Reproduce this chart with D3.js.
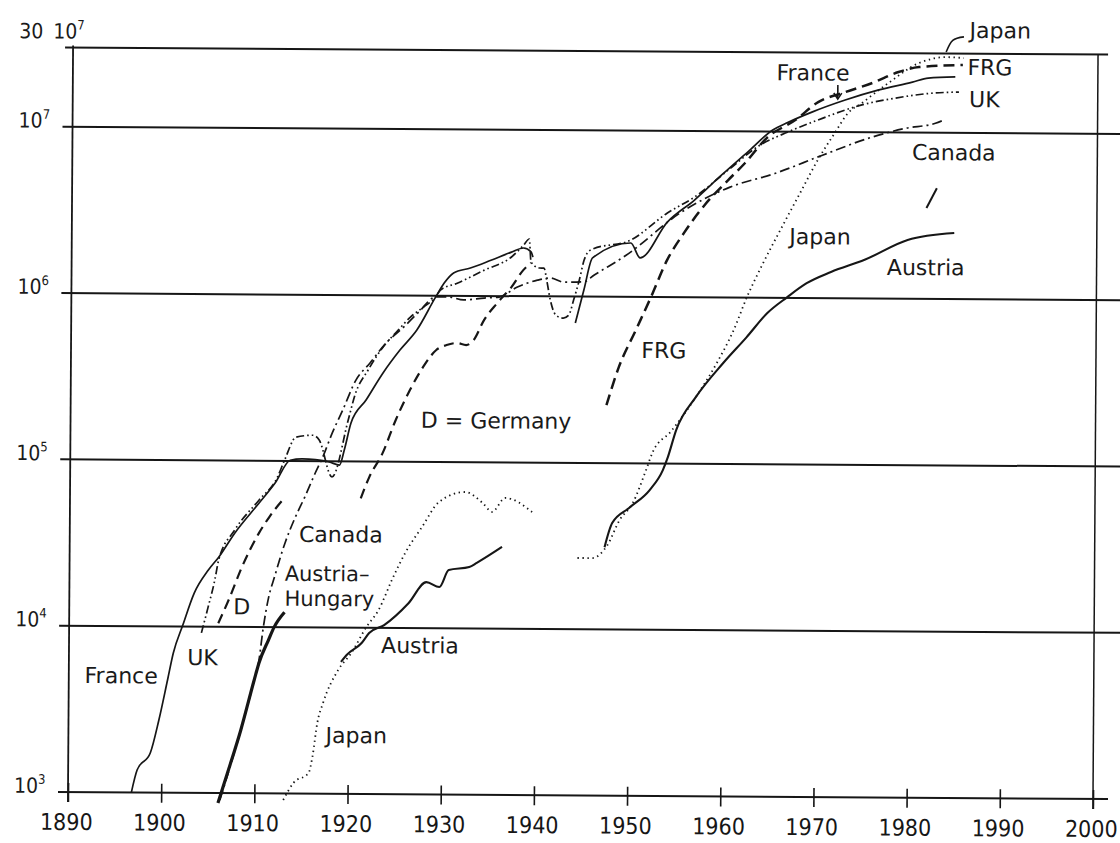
<!DOCTYPE html>
<html>
<head>
<meta charset="utf-8">
<script src="https://cdn.jsdelivr.net/npm/d3@7/dist/d3.min.js"></script>
<style>
  body { margin: 0; background: #fff; }
  .chart text { font-family: "DejaVu Sans", sans-serif; fill: #1a1a1a; }
  .chart text.tick-label { font-family: "DejaVu Sans Condensed", "DejaVu Sans", sans-serif; font-stretch: condensed; }
</style>
</head>
<body>
<div class="chart"></div>
<script>
// size of the page and the plotting box
const WIDTH = 1120;
const HEIGHT = 843;

// x ticks and y ticks (decades of the log axis)
const XTICKS = [1890, 1900, 1910, 1920, 1930, 1940, 1950, 1960, 1970, 1980, 1990, 2000];
const YTICKS = [1e3, 1e4, 1e5, 1e6, 1e7];
const YTICK_EXP = ["3", "4", "5", "6", "7"];

// series as [year, number of cars]
const france1 = [[1896.8, 1000], [1897.4, 1365], [1898.8, 1730], [1899.7, 2735], [1900.6, 4760], [1901.2, 6920], [1902.2, 10200], [1903.4, 15900], [1904.9, 21900], [1906.0, 26200], [1907.7, 36600], [1910.3, 55700], [1912.0, 73500], [1913.6, 101000], [1914.9, 103000], [1916.3, 102000], [1917.8, 98900], [1918.9, 94900], [1919.4, 117000], [1920.1, 170000], [1921.7, 234000], [1923.5, 341000], [1925.3, 469000], [1927.1, 620000], [1929.1, 982000], [1930.0, 1190000], [1931.0, 1370000], [1932.8, 1470000], [1935.0, 1640000], [1937.2, 1840000], [1938.5, 1950000], [1939.3, 1850000], [1939.5, 1720000]];
const france2 = [[1944.1, 694000], [1945.0, 1100000], [1945.9, 1710000], [1950.0, 2110000], [1951.0, 1720000], [1953.9, 2830000], [1956.8, 3850000], [1959.7, 5460000], [1962.7, 7730000], [1965.1, 10200000], [1966.8, 11400000], [1969.4, 13200000], [1972.9, 15600000], [1976.5, 18000000], [1980.1, 20100000], [1981.8, 21300000], [1984.7, 21700000]];

const uk = [[1904.2, 9170], [1904.9, 13100], [1905.6, 19100], [1906.0, 25200], [1907.7, 38200], [1910.3, 58100], [1912.2, 78800], [1913.0, 101000], [1914.2, 139000], [1916.0, 143000], [1916.7, 134000], [1918.1, 80400], [1919.8, 177000], [1920.5, 250000], [1921.9, 355000], [1923.5, 489000], [1925.1, 618000], [1926.4, 741000], [1927.8, 853000], [1929.1, 982000], [1929.6, 1080000], [1931.4, 1190000], [1934.3, 1430000], [1937.2, 1720000], [1938.5, 2030000], [1939.1, 2210000], [1939.3, 1610000], [1940.2, 1480000], [1940.7, 1480000], [1941.0, 1250000], [1941.4, 951000], [1942.0, 773000], [1942.8, 741000], [1943.4, 774000], [1943.9, 953000], [1944.5, 1260000], [1945.0, 1660000], [1945.7, 1910000], [1950.0, 2200000], [1953.9, 3210000], [1956.8, 4010000], [1960.4, 5850000], [1963.8, 8290000], [1966.5, 9810000], [1970.0, 11800000], [1974.7, 14600000], [1978.3, 16100000], [1982.3, 17300000], [1985.1, 17600000]];

const canada = [[1906.3, 908], [1908.5, 2400], [1909.9, 4800], [1910.4, 6330], [1910.8, 9600], [1911.4, 15200], [1912.0, 20000], [1913.1, 32000], [1914.2, 46000], [1915.2, 60800], [1916.3, 84800], [1917.1, 106000], [1918.1, 148000], [1919.2, 203000], [1920.6, 308000], [1922.1, 391000], [1923.8, 516000], [1925.7, 646000], [1927.3, 796000], [1929.1, 982000], [1930.5, 983000], [1932.1, 944000], [1934.3, 971000], [1935.9, 986000], [1937.8, 1130000], [1940.0, 1250000], [1941.4, 1290000], [1942.8, 1220000], [1945.0, 1230000], [1946.1, 1350000], [1949.5, 1780000], [1955.4, 3250000], [1960.6, 4620000], [1965.4, 5600000], [1970.5, 7250000], [1975.8, 9350000], [1979.4, 10600000], [1982.6, 11400000], [1983.3, 11800000]];

const austriaHungary = [[1906.1, 871], [1907.1, 1320], [1908.5, 2400], [1909.9, 4800], [1910.4, 6080], [1911.4, 8360], [1912.0, 10000], [1913.1, 12300]];

const germany1 = [[1906.0, 10500], [1907.1, 14500], [1908.5, 22900], [1910.3, 36700], [1911.4, 45900], [1913.1, 60700]];
const germany2 = [[1921.2, 60000], [1922.1, 80500], [1923.5, 112000], [1924.9, 178000], [1926.4, 270000], [1927.8, 372000], [1929.2, 471000], [1930.3, 505000], [1931.4, 520000], [1932.4, 506000], [1933.2, 542000], [1934.3, 716000], [1935.7, 907000], [1937.2, 1130000], [1938.5, 1440000], [1939.3, 1590000]];

const frg = [[1947.5, 223000], [1948.8, 378000], [1950.6, 632000], [1952.2, 1000000], [1953.9, 1670000], [1955.7, 2440000], [1957.9, 3600000], [1960.4, 5090000], [1962.2, 6460000], [1964.5, 9140000], [1967.6, 11800000], [1970.0, 15100000], [1972.9, 17400000], [1975.8, 19800000], [1978.6, 23100000], [1980.8, 24800000], [1985.5, 25600000]];

const japan1 = [[1913.1, 914], [1914.2, 1160], [1915.8, 1330], [1916.2, 1660], [1916.7, 2660], [1917.3, 3510], [1918.9, 5550], [1920.3, 7030], [1921.9, 10100], [1923.2, 12800], [1924.6, 19400], [1926.0, 28200], [1927.8, 40600], [1929.6, 57400], [1932.4, 66100], [1934.3, 56800], [1935.3, 50300], [1936.7, 61100], [1939.6, 50400]];
const japan2 = [[1944.5, 26800], [1946.1, 26800], [1947.7, 32100], [1949.0, 45500], [1950.4, 57700], [1951.8, 91200], [1952.5, 117000], [1954.4, 155000], [1957.1, 252000], [1959.3, 403000], [1961.1, 638000], [1962.5, 1010000], [1964.0, 1530000], [1966.2, 2670000], [1968.3, 4470000], [1970.0, 6780000], [1971.8, 9860000], [1973.2, 13000000], [1974.7, 15000000], [1977.2, 19200000], [1980.8, 26200000], [1983.7, 28500000], [1985.6, 28200000]];

const austria1 = [[1919.2, 6210], [1919.8, 6840], [1921.4, 8090], [1922.2, 9290], [1923.8, 10400], [1926.4, 14100], [1928.3, 18900], [1929.7, 17700], [1930.7, 22400], [1932.9, 23400], [1933.7, 24800], [1936.4, 31000]];
const austria2 = [[1947.4, 31200], [1948.2, 43600], [1950.0, 53800], [1952.2, 69100], [1953.6, 91200], [1954.1, 108000], [1955.0, 159000], [1957.1, 252000], [1960.0, 404000], [1962.5, 580000], [1964.7, 811000], [1966.8, 1010000], [1968.9, 1230000], [1971.5, 1440000], [1975.1, 1710000], [1979.7, 2260000], [1984.7, 2500000]];

// text labels (lines split by "|"), anchored at [year, value] of their left baseline
const labelText = ["Japan", "FRG", "UK", "France", "Canada", "Japan", "Austria", "FRG", "D = Germany", "Canada", "Austria\u2013|Hungary", "D", "UK", "France", "Austria", "Japan"];
const labelAt = [[1986.2, 3.72e7], [1986.0, 2.23e7], [1986.2, 1.43e7], [1965.5, 2.04e7], [1980.1, 6.84e6], [1967.0, 2.11e6], [1977.5, 1.39e6], [1951.2, 4.30e5], [1927.6, 1.60e5], [1914.6, 3.26e4], [1913.1, 1.90e4], [1907.6, 1.19e4], [1902.7, 5.86e3], [1891.7, 4.53e3], [1923.5, 7.06e3], [1917.6, 2.02e3]];

// little leader marks
const japanLeader = [[1983.7, 3.06e7], [1984.4, 3.6e7], [1985.6, 3.78e7]];
const canadaMark = [[1981.7, 3.52e6], [1982.8, 4.64e6]];
const franceArrow = [[1972.1, 1.92e7], [1972.1, 1.58e7]];

const X = d3.scaleLinear().domain([1890, 2000]).range([68, 1093]);
const Y = d3.scaleLog().domain([1e3, 3e7]).range([792, 47.5]);

const SVG = d3.select(".chart")
  .append("svg")
  .attr("width", WIDTH)
  .attr("height", HEIGHT);

// the scan is a little tilted
const G = SVG.append("g").attr("transform", "rotate(0.39 68 792)");

const INK = "#161616";

// horizontal grid lines at each decade
G.selectAll(".grid")
  .data(YTICKS)
  .join("line")
  .attr("class", "grid")
  .attr("x1", 58)
  .attr("x2", d => d === 1e3 ? 1108 : 1120)
  .attr("y1", d => Y(d))
  .attr("y2", d => Y(d))
  .attr("stroke", INK)
  .attr("stroke-width", 2);

// top line and the frame
G.append("line").attr("x1", 60).attr("x2", 1103).attr("y1", Y(3e7)).attr("y2", Y(3e7)).attr("stroke", INK).attr("stroke-width", 2);
G.append("line").attr("x1", X(1890)).attr("x2", X(1890)).attr("y1", Y(3e7) - 2).attr("y2", Y(1e3) + 10).attr("stroke", INK).attr("stroke-width", 1.8);
G.append("line").attr("x1", X(2000)).attr("x2", X(2000)).attr("y1", Y(3e7)).attr("y2", Y(1e3) + 10).attr("stroke", INK).attr("stroke-width", 1.5);

// x axis
const xAxis = G.append("g")
  .attr("transform", `translate(0,${Y(1e3)})`)
  .call(d3.axisBottom(X).tickValues(XTICKS).tickFormat(d3.format("d")).tickSizeInner(10).tickSizeOuter(0));
xAxis.select(".domain").remove();
xAxis.selectAll(".tick line").attr("y1", -9).attr("stroke", INK).attr("stroke-width", 1.6);
xAxis.selectAll(".tick text")
  .attr("class", "tick-label")
  .attr("y", 38)
  .attr("dy", 0)
  .attr("x", -2)
  .attr("font-family", null)
  .style("font-size", "23px")
  .style("fill", INK);

// y labels with superscripts
const yLab = G.selectAll(".ylab")
  .data(YTICKS)
  .join("text")
  .attr("class", "ylab tick-label")
  .attr("x", 14)
  .attr("y", d => Y(d) + 1)
  .style("font-size", "21px");
yLab.append("tspan").text("10");
yLab.append("tspan").attr("dy", -9).style("font-size", "13px").text((d, i) => YTICK_EXP[i]);

const topLabel = G.append("text").attr("class", "tick-label").attr("x", 14).attr("y", Y(3e7) - 9).style("font-size", "21px");
topLabel.append("tspan").text("30");
topLabel.append("tspan").attr("dx", 10).text("10");
topLabel.append("tspan").attr("dy", -9).style("font-size", "13px").text("7");

// series and their line styles
const SERIES = [
  { parts: [france1, france2], width: 1.7, dash: null },
  { parts: [uk], width: 1.7, dash: "8,3,1.6,3,1.6,3" },
  { parts: [canada], width: 1.7, dash: "10,4,2,4" },
  { parts: [austriaHungary], width: 3.2, dash: null },
  { parts: [germany1, germany2], width: 2.2, dash: "10,6" },
  { parts: [frg], width: 2.5, dash: "11,6" },
  { parts: [japan1, japan2], width: 1.8, dash: "1.4,3.6" },
  { parts: [austria1, austria2], width: 2.1, dash: null }
];

const LINE = d3.line()
  .x(d => X(d[0]))
  .y(d => Y(d[1]))
  .curve(d3.curveMonotoneX);

SERIES.forEach(s => {
  s.parts.forEach(p => {
    G.append("path")
      .attr("d", LINE(p))
      .attr("fill", "none")
      .attr("stroke", INK)
      .attr("stroke-width", s.width)
      .attr("stroke-dasharray", s.dash)
      .attr("stroke-linejoin", "round");
  });
});

// leaders
const STRAIGHT = d3.line().x(d => X(d[0])).y(d => Y(d[1]));
G.append("path")
  .attr("d", STRAIGHT.curve(d3.curveNatural)(japanLeader))
  .attr("fill", "none").attr("stroke", INK).attr("stroke-width", 1.6);
G.append("path")
  .attr("d", STRAIGHT.curve(d3.curveLinear)(canadaMark))
  .attr("fill", "none").attr("stroke", INK).attr("stroke-width", 2);
G.append("path")
  .attr("d", STRAIGHT(franceArrow))
  .attr("fill", "none").attr("stroke", INK).attr("stroke-width", 1.6);
const tip = franceArrow[1];
G.append("path")
  .attr("d", `M${X(tip[0]) - 4},${Y(tip[1]) - 6}L${X(tip[0])},${Y(tip[1])}L${X(tip[0]) + 4},${Y(tip[1]) - 6}`)
  .attr("fill", "none").attr("stroke", INK).attr("stroke-width", 1.5);

// labels; a "|" starts a second line
const labels = G.selectAll(".lab")
  .data(labelText)
  .join("text")
  .attr("class", "lab")
  .attr("x", (d, i) => X(labelAt[i][0]))
  .attr("y", (d, i) => Y(labelAt[i][1]))
  .style("font-size", d => d.includes("|") ? "21px" : "22px");
labels.each(function (d, i) {
  const el = d3.select(this);
  d.split("|").forEach((part, k) => {
    el.append("tspan")
      .attr("x", X(labelAt[i][0]))
      .attr("dy", k === 0 ? 0 : 25)
      .text(part);
  });
});
</script>
</body>
</html>
